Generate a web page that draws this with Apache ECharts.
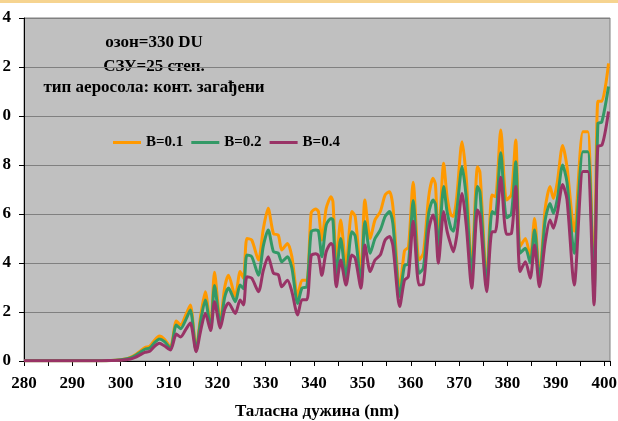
<!DOCTYPE html>
<html><head><meta charset="utf-8">
<script src="https://cdn.jsdelivr.net/npm/echarts@6/dist/echarts.min.js"></script>
<style>html,body{margin:0;padding:0;background:#fff}#c{width:618px;height:421px}</style>
</head><body><div id="c"></div>
<script>
const wavelengths = [280,282,284,286,288,290,292,294,296,298,300,301,302,303,304,305,306,307,308,309,310.3,311.5,312.4,313.5,314.4,315.6,316.5,317.5,318.6,319.4,320.6,321.5,322.3,323.7,324.7,325.4,326.1,327.1,328.5,329.5,330.5,331.6,332.6,333.3,334.5,335.4,336.6,337.5,338.5,339.4,340.3,340.9,341.6,342.5,343.5,343.9,344.6,345.5,346.6,347.8,348.5,349.7,350.5,351.6,352.6,353.7,354.7,355.6,356.3,357.7,358.7,359.5,360.5,361.7,362.6,363.7,364.6,365.1,365.7,366.8,367.5,368.3,368.8,369.5,370.6,371.5,372.6,373.8,374.3,375.7,376.8,377.5,378.6,379.8,380.8,381.7,382.6,383.7,384.7,385.6,386.6,387.8,388.8,389.5,390.3,391.4,392.3,393.8,395.6,396.6,397.9,398.7,399.5,400.9];
const b01 = [0.01,0.01,0.01,0.01,0.01,0.01,0.01,0.01,0.01,0.02,0.05,0.08,0.15,0.25,0.4,0.55,0.6,0.85,1.02,0.9,0.57,1.63,1.47,1.9,2.29,0.45,1.8,2.83,1.35,3.62,1.6,3.0,3.5,2.63,3.65,3.38,5.0,4.94,4.12,5.4,6.23,5.2,5.14,4.53,4.8,4.26,2.63,3.3,3.3,6.05,6.2,6.1,4.94,6.23,6.7,6.5,4.0,5.76,3.85,6.1,5.9,3.5,6.57,5.0,5.76,6.1,6.78,6.91,6.3,2.9,4.5,4.65,7.3,4.12,4.4,6.7,7.46,7.2,4.8,8.07,6.7,5.96,5.9,6.7,8.95,7.39,3.71,7.93,7.7,3.3,6.78,6.7,9.43,6.57,6.8,9.02,4.67,5.0,4.26,5.82,3.44,6.23,7.12,6.64,7.3,8.8,7.93,5.3,9.36,9.36,2.9,10.6,10.6,12.15];
const b02 = [0.01,0.01,0.01,0.01,0.01,0.01,0.01,0.01,0.01,0.02,0.05,0.08,0.13,0.22,0.35,0.48,0.53,0.75,0.9,0.8,0.52,1.47,1.32,1.7,2.08,0.42,1.6,2.49,1.3,3.08,1.5,2.6,2.98,2.42,3.1,2.95,4.33,4.26,3.5,4.7,5.35,4.46,4.4,4.05,4.26,3.8,2.35,2.98,3.03,5.28,5.35,5.3,4.26,5.55,5.82,5.75,3.5,5.0,3.4,5.28,5.1,3.2,5.69,4.4,5.0,5.35,5.9,6.1,5.6,2.63,3.9,3.95,6.55,3.58,3.8,6.03,6.57,6.4,4.53,7.12,6.1,5.42,5.3,6.1,7.93,6.6,3.5,7.12,6.9,3.15,6.1,6.0,8.5,5.85,6.0,8.13,4.4,4.6,4.0,5.35,3.3,5.76,6.43,6.03,6.6,8.0,7.3,4.4,8.54,8.54,2.76,9.7,9.75,11.2];
const b04 = [0.01,0.01,0.01,0.01,0.01,0.01,0.01,0.01,0.01,0.02,0.03,0.05,0.08,0.15,0.25,0.35,0.4,0.6,0.72,0.62,0.45,1.1,0.98,1.3,1.55,0.38,1.2,1.95,1.24,2.42,1.35,2.1,2.37,1.94,2.49,2.29,3.44,3.38,2.83,3.7,4.26,3.58,3.52,3.03,3.3,2.83,1.88,2.5,2.5,4.3,4.38,4.3,3.5,4.46,4.8,4.7,3.03,4.12,3.1,4.33,4.2,2.97,4.73,3.65,4.12,4.33,4.94,5.08,4.7,2.22,3.3,3.45,5.7,3.1,3.14,5.35,5.96,5.6,3.99,6.1,5.3,4.73,4.46,5.1,6.84,5.48,2.97,6.16,5.95,2.83,5.28,5.28,7.5,5.17,5.2,7.12,3.65,4.05,3.38,4.73,3.03,4.87,5.76,5.42,6.03,7.2,6.6,3.1,7.73,7.73,2.29,8.78,8.8,10.18];
const seriesNames = ['B=0.1','B=0.2','B=0.4'];
const yTickLabels = ['0','2','4','6','8','0','2','4'];
const annotationLines = ['озон=330 DU','СЗУ=25 степ.','тип аеросола: конт. загађени'];
const xTitle = 'Таласна дужина (nm)';

const colors = ['#FF9900','#339966','#993366'];
const font = '"Liberation Serif", "Times New Roman", serif';
const pairs = arr => wavelengths.map((w,i)=>[w,arr[i]]);
const chart = echarts.init(document.getElementById('c'));
chart.setOption({
  animation:false,
  backgroundColor:'#ffffff',
  grid:{left:24,top:18,right:8,bottom:60,containLabel:false,outerBoundsMode:'none',
    show:true,backgroundColor:'#C0C0C0',borderColor:'#808080',borderWidth:1},
  legend:{left:108,top:130,itemWidth:28,itemHeight:3,itemGap:8,icon:'rect',
    textStyle:{fontFamily:font,fontWeight:'bold',fontSize:15,color:'#000'},
    data:seriesNames},
  xAxis:{type:'value',min:280,max:401.2,interval:5,
    axisLine:{lineStyle:{color:'#000',width:1}},
    axisTick:{length:5,lineStyle:{color:'#000'}},
    splitLine:{show:false},
    axisLabel:{margin:14,fontFamily:font,fontWeight:'bold',fontSize:17,color:'#000',
      formatter:v=> (v%10===0 && v<=400) ? String(v) : ''},
    name:xTitle,nameLocation:'middle',nameGap:42,
    nameTextStyle:{fontFamily:font,fontWeight:'bold',fontSize:17,color:'#000'}},
  yAxis:{type:'value',min:0,max:14,interval:2,
    axisLine:{show:true,lineStyle:{color:'#000',width:1}},
    axisTick:{show:true,length:5,lineStyle:{color:'#000'}},
    splitLine:{lineStyle:{color:'#808080',width:1}},
    axisLabel:{margin:13,fontFamily:font,fontWeight:'bold',fontSize:17,color:'#000',
      formatter:(v)=>yTickLabels[Math.round(v/2)]}},
  graphic:[
    {type:'rect',shape:{x:0,y:0,width:618,height:3},style:{fill:'#F6D490'}},
    ...annotationLines.map((t,i)=>({type:'text',style:{x:154,y:[43,67,88][i],text:t,
      textAlign:'center',textVerticalAlign:'middle',font:'bold 17px '+font,fill:'#000'}}))
  ],
  series:seriesNames.map((n,i)=>({name:n,type:'line',data:pairs([b01,b02,b04][i]),
    showSymbol:false,smooth:0.25,color:colors[i],lineStyle:{width:3,color:colors[i]}}))
});
</script></body></html>
